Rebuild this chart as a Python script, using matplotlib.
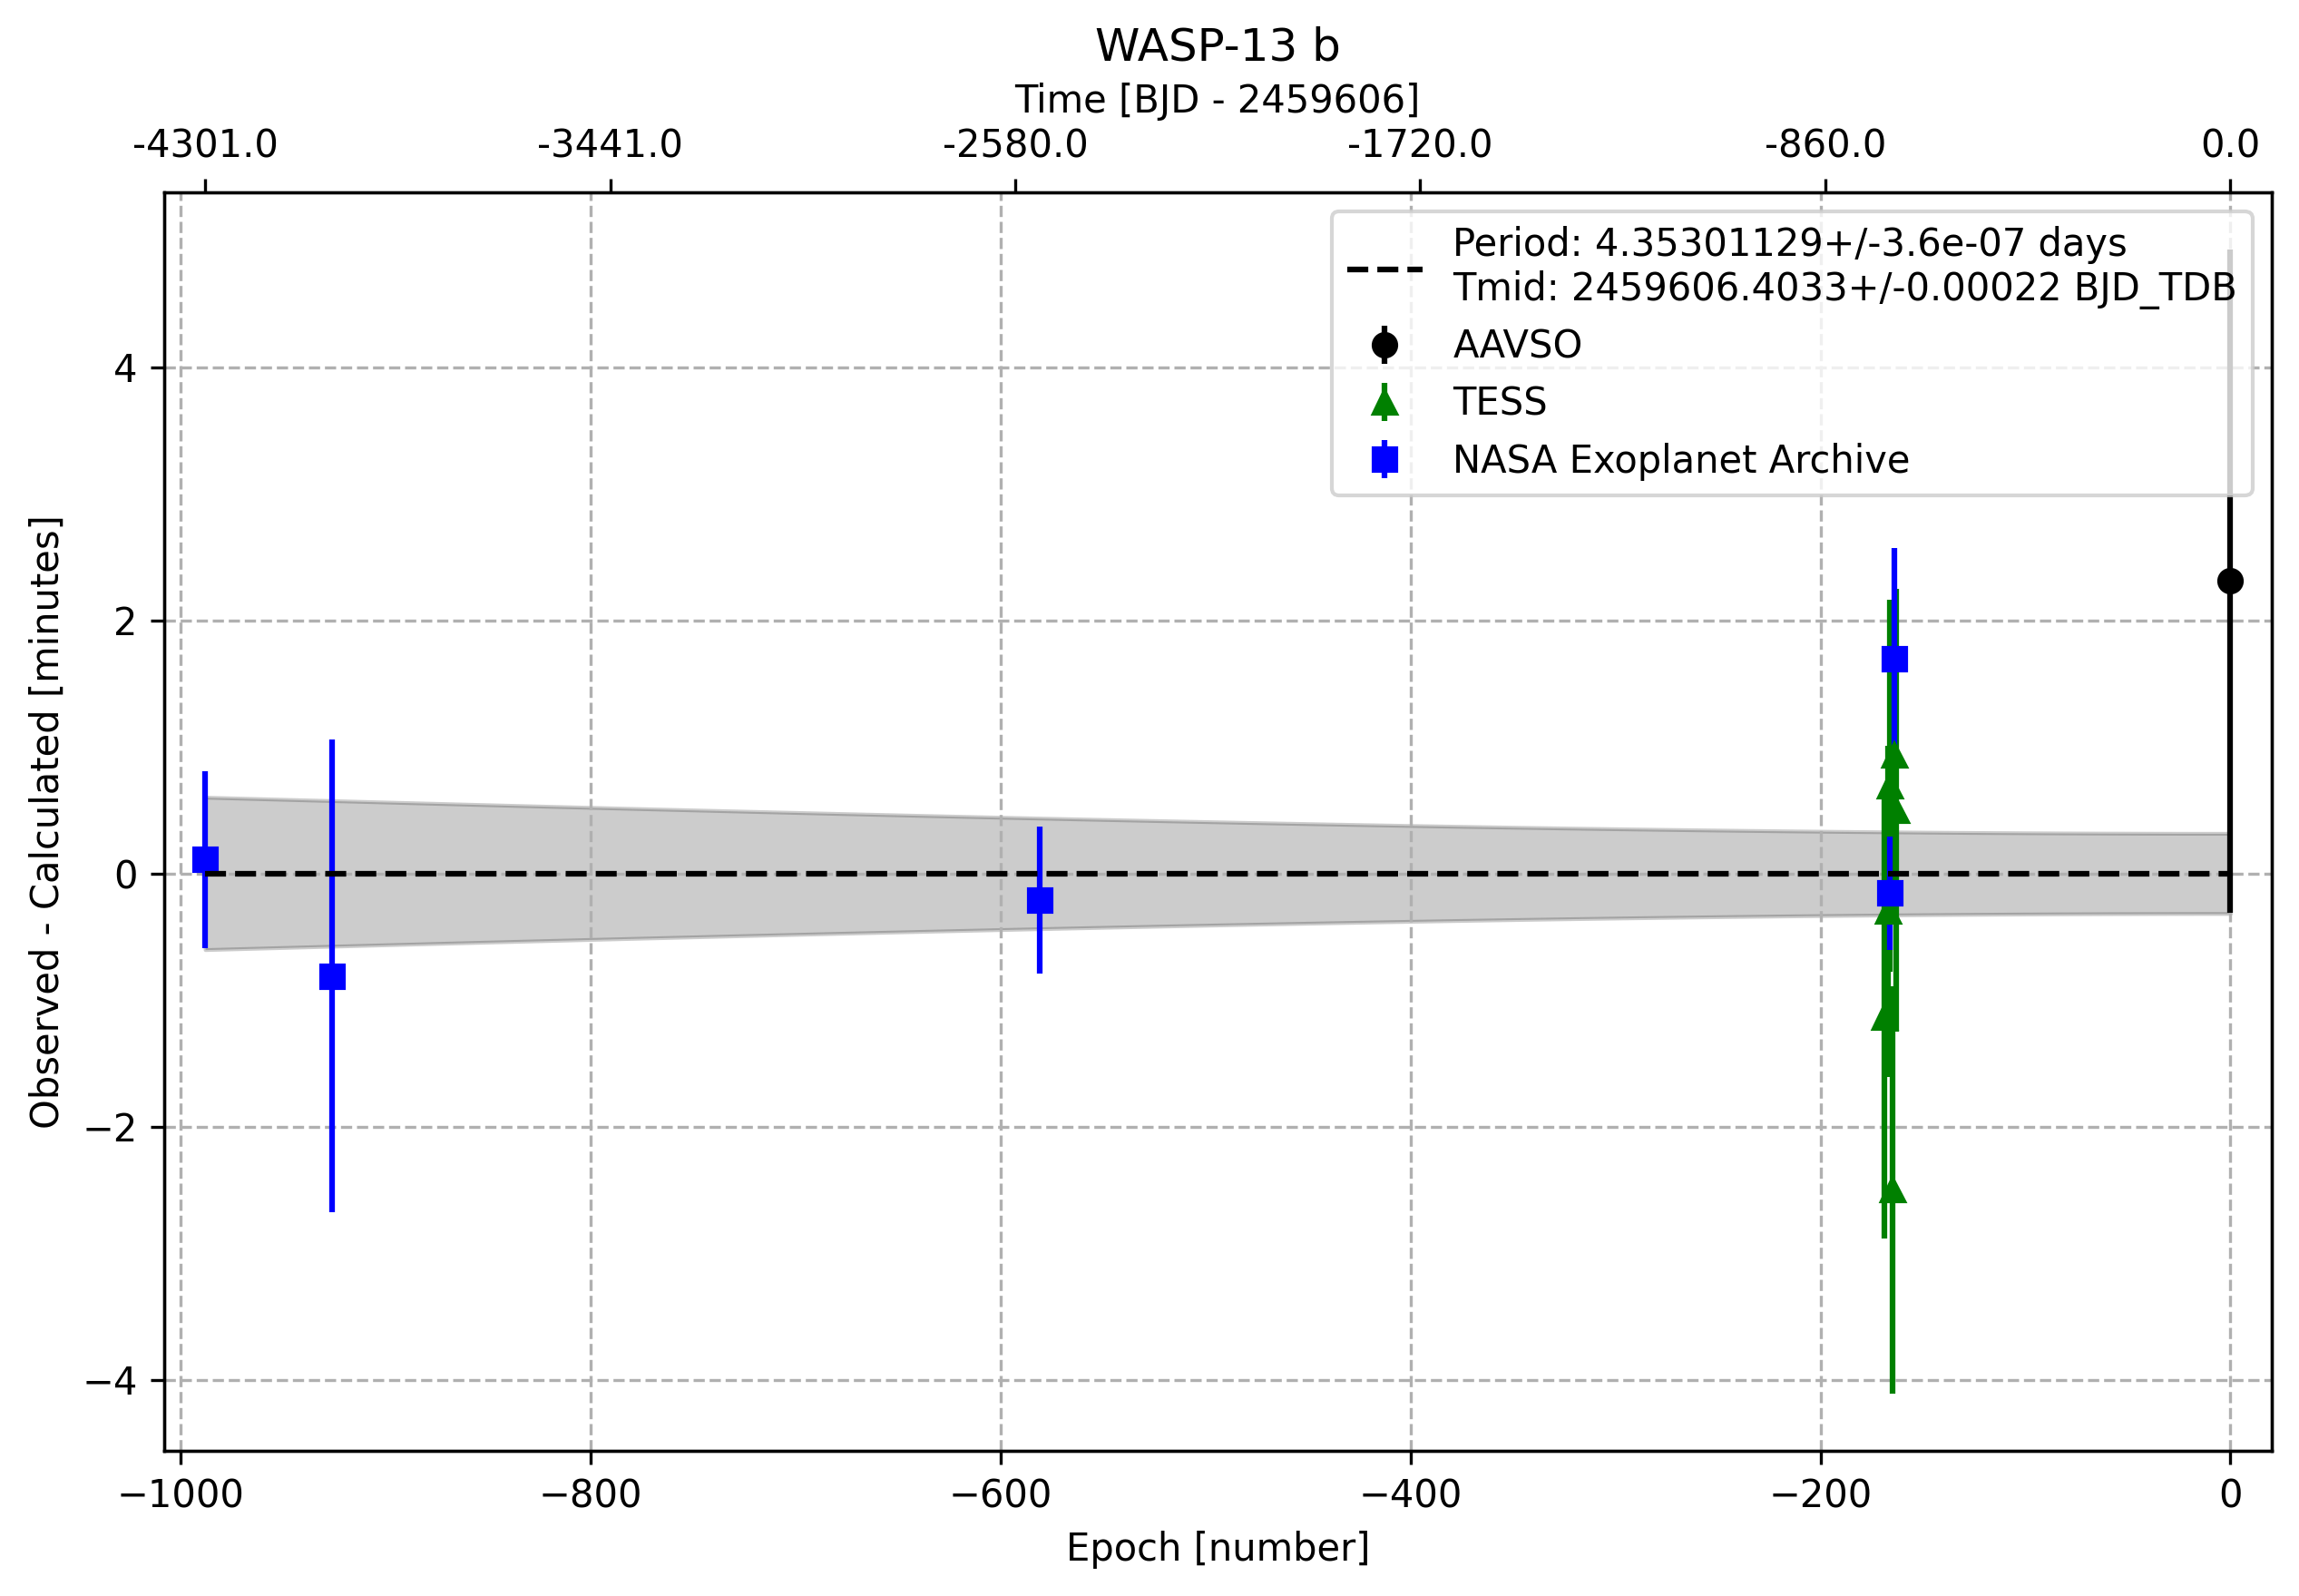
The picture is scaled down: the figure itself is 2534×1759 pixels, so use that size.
import numpy as np
import matplotlib
matplotlib.use('Agg')
import matplotlib.pyplot as plt

# ephemeris from the fit
period = 4.35301129
period_err = 3.6e-07
tmid = 2459606.4033
tmid_err = 0.00022
target = 'WASP-13 b'

# AAVSO
aavso_epoch = [0]
aavso_oc = [2.31]
aavso_err = [2.62]

# TESS
tess_epoch = [-169, -167, -166, -165, -164, -163]
tess_oc = [-1.135, -0.30, 0.69, -2.50, 0.94, 0.50]
tess_err = [1.75, 1.31, 1.47, 1.61, 1.20, 1.75]

# NASA Exoplanet Archive
nasa_epoch = [-988, -926, -581, -166, -164]
nasa_oc = [0.11, -0.81, -0.21, -0.156, 1.70]
nasa_err = [0.70, 1.87, 0.58, 0.45, 0.87]

all_epochs = np.array(aavso_epoch + tess_epoch + nasa_epoch)
emin, emax = all_epochs.min(), all_epochs.max()

fig = plt.figure(figsize=(2534 / 300, 1759 / 300), dpi=300)
ax = fig.add_subplot(111)
fig.subplots_adjust(left=0.0714, right=0.988, bottom=0.091, top=0.8795)

# ephemeris uncertainty band (minutes)
xe = np.linspace(emin, emax, 200)
band = np.sqrt(tmid_err**2 + (xe * period_err)**2) * 24 * 60
ax.fill_between(xe, -band, band, color='black', alpha=0.2, zorder=1)

ax.plot([emin, emax], [0, 0], 'k--', zorder=3,
        label=f'Period: {period}+/-{period_err} days\n'
              f'Tmid: {tmid}+/-{tmid_err} BJD_TDB')

ax.errorbar(aavso_epoch, aavso_oc, yerr=aavso_err, fmt='o', color='black', label='AAVSO')
ax.errorbar(tess_epoch, tess_oc, yerr=tess_err, fmt='^', color='green', label='TESS')
ax.errorbar(nasa_epoch, nasa_oc, yerr=nasa_err, fmt='s', color='blue', label='NASA Exoplanet Archive')

ax.set_xlim(emin - 20, emax + 20)
ax.set_xlabel('Epoch [number]')
ax.set_ylabel('Observed - Calculated [minutes]')
ax.grid(True, ls='--')
ax.legend(loc='upper right')

# time axis on top
ax2 = ax.twiny()
ax2.set_xlim(ax.get_xlim())
ticks = np.linspace(emin, emax, 6)
ax2.set_xticks(ticks)
ax2.set_xticklabels([str(np.round(t * period, 0) + 0.0) for t in ticks])
ax2.set_xlabel(f'Time [BJD - {int(tmid)}]')

ax.set_title(target)

fig.savefig('out.png', dpi=300)
